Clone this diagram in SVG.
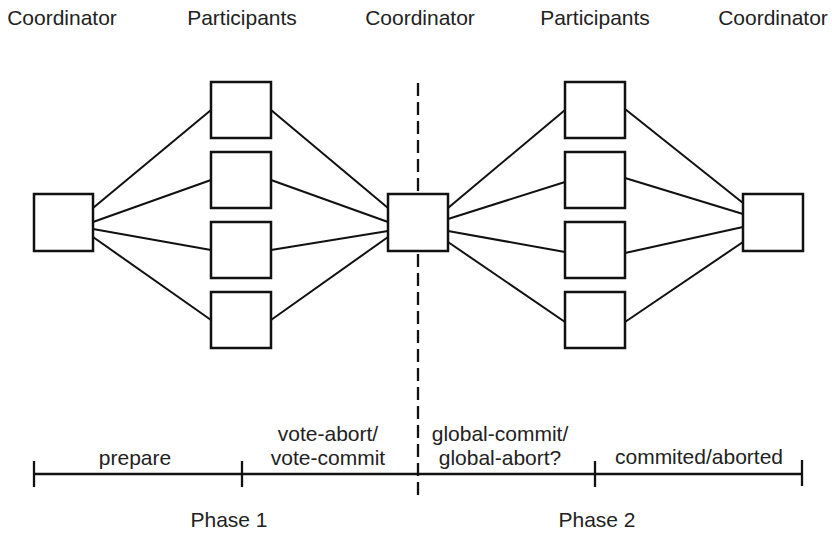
<svg xmlns="http://www.w3.org/2000/svg" width="832" height="535" viewBox="0 0 832 535">
<style>
.box{fill:#fff;stroke:#111;stroke-width:2.5}
.ln{stroke:#111;stroke-width:2;fill:none}
.tl{stroke:#111;stroke-width:2.3;fill:none}
.dash{stroke:#111;stroke-width:2.3;stroke-dasharray:13 6;fill:none}
text{font-family:"Liberation Sans",Arial,sans-serif;font-size:21px;fill:#222;text-anchor:middle}
</style>
<rect width="832" height="535" fill="#fff"/>
<g id="labels">
<text x="62" y="25">Coordinator</text>
<text x="242" y="25">Participants</text>
<text x="420" y="25">Coordinator</text>
<text x="595" y="25">Participants</text>
<text x="773" y="25">Coordinator</text>
</g>
<line id="divider" class="dash" x1="418" y1="83" x2="418" y2="498"/>
<g id="connectors">
<line class="ln" x1="93" y1="208" x2="211" y2="110"/>
<line class="ln" x1="93" y1="222" x2="211" y2="180"/>
<line class="ln" x1="93" y1="229" x2="211" y2="250"/>
<line class="ln" x1="93" y1="237" x2="211" y2="320"/>
<line class="ln" x1="271" y1="110" x2="388" y2="208"/>
<line class="ln" x1="271" y1="180" x2="388" y2="222"/>
<line class="ln" x1="271" y1="250" x2="388" y2="231"/>
<line class="ln" x1="271" y1="320" x2="388" y2="237"/>
<line class="ln" x1="448" y1="208" x2="565" y2="110"/>
<line class="ln" x1="448" y1="219" x2="565" y2="182"/>
<line class="ln" x1="448" y1="231" x2="565" y2="252"/>
<line class="ln" x1="448" y1="242" x2="565" y2="322"/>
<line class="ln" x1="625" y1="109" x2="743" y2="203"/>
<line class="ln" x1="625" y1="178" x2="743" y2="214"/>
<line class="ln" x1="625" y1="253" x2="743" y2="227"/>
<line class="ln" x1="625" y1="322" x2="743" y2="242"/>
</g>
<g id="coord1"><rect class="box" x="34" y="194" width="59" height="57"/></g>
<g id="p1a"><rect class="box" x="211" y="82" width="60" height="56"/></g>
<g id="p1b"><rect class="box" x="211" y="152" width="60" height="56"/></g>
<g id="p1c"><rect class="box" x="211" y="222" width="60" height="56"/></g>
<g id="p1d"><rect class="box" x="211" y="292" width="60" height="56"/></g>
<g id="coord2"><rect class="box" x="388" y="194" width="60" height="57"/></g>
<g id="p2a"><rect class="box" x="565" y="82" width="60" height="56"/></g>
<g id="p2b"><rect class="box" x="565" y="152" width="60" height="56"/></g>
<g id="p2c"><rect class="box" x="565" y="222" width="60" height="56"/></g>
<g id="p2d"><rect class="box" x="565" y="292" width="60" height="56"/></g>
<g id="coord3"><rect class="box" x="743" y="194" width="60" height="57"/></g>
<g id="timeline">
<line class="tl" x1="34" y1="474" x2="802" y2="474"/>
<line class="tl" x1="34" y1="461" x2="34" y2="487"/>
<line class="tl" x1="242" y1="461" x2="242" y2="487"/>
<line class="tl" x1="595" y1="461" x2="595" y2="487"/>
<line class="tl" x1="802" y1="460" x2="802" y2="486"/>
<text x="135" y="465">prepare</text>
<text x="328" y="441">vote-abort/</text>
<text x="328" y="465">vote-commit</text>
<text x="500" y="441">global-commit/</text>
<text x="500" y="465">global-abort?</text>
<text x="699" y="464">commited/aborted</text>
<text x="229" y="527">Phase 1</text>
<text x="597" y="527">Phase 2</text>
</g>
</svg>
